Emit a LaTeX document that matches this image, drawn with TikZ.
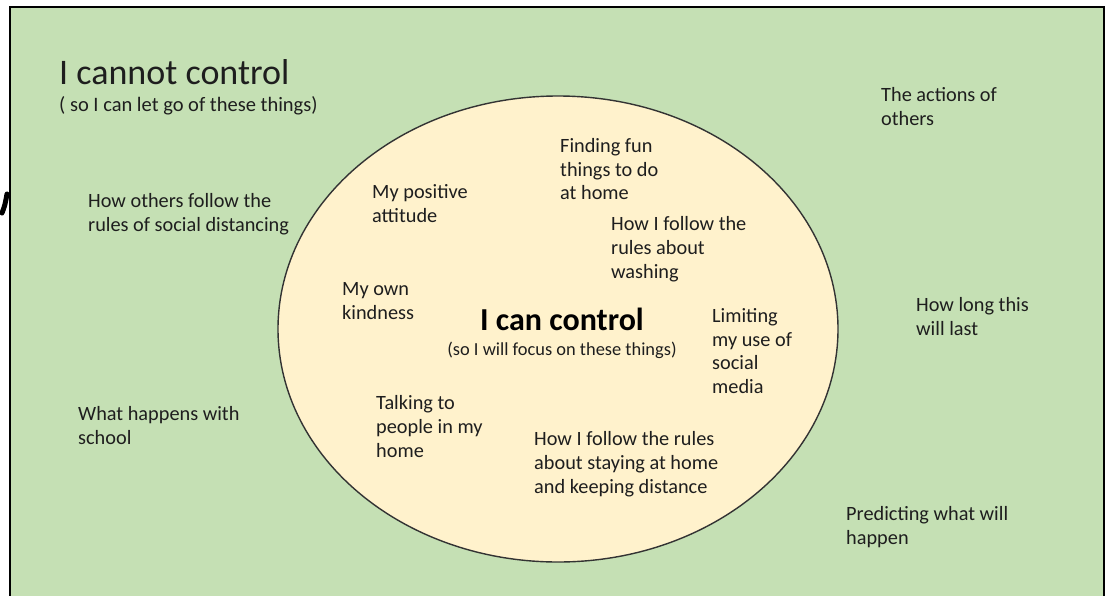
\documentclass[tikz,border=0pt]{standalone}
\usepackage{fontspec}
\setmainfont{Carlito}
\usetikzlibrary{shapes.geometric}
\definecolor{boxgreen}{HTML}{C5E0B4}
\definecolor{cream}{HTML}{FFF2CC}
\definecolor{txt}{HTML}{1E1E1E}
\begin{document}
\begin{tikzpicture}[x=1pt,y=-1pt,
  lbl/.style={anchor=north west, inner sep=0pt, align=left,
    font=\fontsize{20.3}{23.6}\selectfont, text=txt},
  zone/.style={ellipse, draw=black!80, line width=1.4pt, fill=cream,
    minimum width=560pt, minimum height=466pt, inner sep=0pt}
]
\useasboundingbox (0,0) rectangle (1109,595);
\clip (0,0) rectangle (1109,595);
\draw[line width=2pt, fill=boxgreen] (10,7) rectangle (1104,640);
\draw[line width=5pt, line cap=round] (2,213) .. controls (5,205) .. (7,194);
\node[zone] (circ) at (558,329) {};

\node[lbl, font=\fontsize{36}{42}\selectfont] (title) at (59,59) {I cannot control};
\node[lbl, font=\fontsize{20.5}{24}\selectfont] (sub) at (59,96) {( so I can let go of these things)};

\node[lbl] (actions) at (881,87.5) {The actions of\\others};
\node[lbl] (others) at (88,193.5) {How others follow the\\rules of social distancing};
\node[lbl] (howlong) at (916,297.5) {How long this\\will last};
\node[lbl] (school) at (78,406.5) {What happens with\\school};
\node[lbl] (predict) at (846,506.5) {Predicting what will\\happen};

\node[lbl] (attitude) at (372,184.5) {My positive\\attitude};
\node[lbl] (fun) at (560,138.5) {Finding fun\\things to do\\at home};
\node[lbl] (washing) at (611,216.5) {How I follow the\\rules about\\washing};
\node[lbl] (kind) at (342,282.5) {My own\\kindness};
\node[lbl] (media) at (712,308.5) {Limiting\\my use of\\social\\media};
\node[lbl] (talk) at (376,395.5) {Talking to\\people in my\\home};
\node[lbl] (stay) at (534,431.5) {How I follow the rules\\about staying at home\\and keeping distance};

\node[anchor=base, inner sep=0pt, text=black, font=\fontsize{32}{38}\selectfont\bfseries] (can) at (562,330) {I can control};
\node[anchor=base, inner sep=0pt, text=txt, font=\fontsize{18.4}{22}\selectfont] (focus) at (562,355) {(so I will focus on these things)};
\end{tikzpicture}
\end{document}
